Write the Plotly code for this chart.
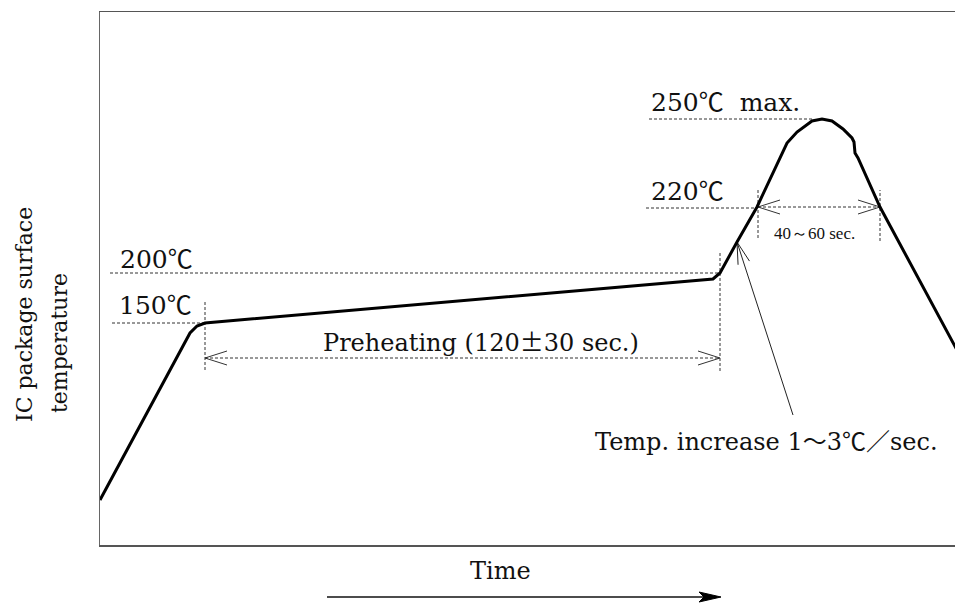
import math
import plotly.graph_objects as go

# ---- profile curve (time units, schematic temperature units) ----
time = [0, 60, 90, 97, 105, 613, 620, 637, 657, 687, 697, 712, 722, 732, 743, 752, 754, 755, 758, 780, 865]
temp = [45, 156, 212, 219, 222, 266, 272, 303, 338, 402, 413, 424, 426, 424, 416, 407, 403, 392, 387, 338, 180]

# ---- temperature level guides ----
level_names = ["150℃", "200℃", "220℃", "250℃\u00a0\u00a0max."]
level_temp = [222, 272, 337, 426]
level_from = [12, 10, 546, 549]
level_to = [105, 618, 657, 712]
level_label_x = [17, 18, 549, 549]
level_label_y = [242, 288, 356, 445]

# ---- vertical time markers ----
mark_time = [105, 620, 658, 780]
mark_low = [175, 174, 307, 304]
mark_high = [244, 293, 355, 355]

# ---- duration spans ----
span_names = ["Preheating (120±30 sec.)", "40～60 sec."]
span_start = [105, 658]
span_end = [620, 780]
span_level = [187, 338]
span_label_x = [381, 714]
span_label_y = [205, 312]

# ---- ramp-rate callout ----
rate_text = "Temp. increase 1～3℃／sec."
rate_tip = (637, 303)
rate_tail = (693, 130)
rate_label = (666, 106)

# ---- axis captions ----
y_caption = ["IC package surface", "temperature"]
y_caption_x = [-76, -41]
y_caption_y = [230, 202]
x_caption = "Time"
x_caption_pos = (400, -26)
time_arrow = (227, 621, -52)   # start, end, level (below axis)

X_RANGE = [0, 855]
Y_RANGE = [0, 533]

SERIF = "'DejaVu Serif', 'Liberation Serif', serif"
NARROW = "'Liberation Serif', serif"
CJK = "Noto Sans CJK JP"
INK = "#111111"
DASH = dict(color="#333333", width=1, dash="3px,2px")


def wide(s):
    out = []
    for ch in s:
        if ch in "℃～／±":
            out.append(f'<span style="font-family:{CJK}">{ch}</span>')
        else:
            out.append(ch)
    return "".join(out)


def px(x):
    return (x - X_RANGE[0]) / (X_RANGE[1] - X_RANGE[0])


def py(y):
    return (y - Y_RANGE[0]) / (Y_RANGE[1] - Y_RANGE[0])


fig = go.Figure()


def add_line(xs, ys, line):
    fig.add_trace(go.Scatter(x=xs, y=ys, mode="lines", line=line,
                             hoverinfo="skip", showlegend=False))


def v_head(tip, back, length, half):
    dx, dy = back
    n = math.hypot(dx, dy)
    ux, uy = dx / n, dy / n
    qx, qy = -uy, ux
    bx, by = tip[0] + ux * length, tip[1] + uy * length
    return ([bx + qx * half, tip[0], bx - qx * half],
            [by + qy * half, tip[1], by - qy * half])


# guides
for t, a, b in zip(level_temp, level_from, level_to):
    add_line([a, b], [t, t], DASH)
for x, lo, hi in zip(mark_time, mark_low, mark_high):
    add_line([x, x], [lo, hi], DASH)
for a, b, lev in zip(span_start, span_end, span_level):
    add_line([a, b], [lev, lev], DASH)
    for tip, back in (((a, lev), (1, 0)), ((b, lev), (-1, 0))):
        hx, hy = v_head(tip, back, 22, 7)
        add_line(hx, hy, dict(color="#333333", width=1))

# rate callout arrow
add_line([rate_tail[0], rate_tip[0]], [rate_tail[1], rate_tip[1]], dict(color="#222222", width=1))
hx, hy = v_head(rate_tip, (rate_tail[0] - rate_tip[0], rate_tail[1] - rate_tip[1]), 22, 6)
add_line(hx, hy, dict(color="#222222", width=1))

# profile
fig.add_trace(go.Scatter(x=time, y=temp, mode="lines",
                         line=dict(color="#000000", width=3),
                         hoverinfo="skip", showlegend=False))

ann = []
for name, x, y in zip(level_names, level_label_x, level_label_y):
    ann.append(dict(x=x, y=y, text=wide(name), xanchor="left", yanchor="middle",
                    showarrow=False, font=dict(size=25, family=SERIF, color=INK)))
ann.append(dict(x=span_label_x[0], y=span_label_y[0], text=wide(span_names[0]),
                xanchor="center", yanchor="middle", showarrow=False,
                font=dict(size=24, family=SERIF, color=INK)))
ann.append(dict(x=span_label_x[1], y=span_label_y[1], text=span_names[1],
                xanchor="center", yanchor="middle", showarrow=False,
                font=dict(size=17, family=NARROW, color=INK)))
ann.append(dict(x=rate_label[0], y=rate_label[1], text=wide(rate_text),
                xanchor="center", yanchor="middle", showarrow=False,
                font=dict(size=24, family=SERIF, color=INK)))
ann.append(dict(x=px(x_caption_pos[0]), y=py(x_caption_pos[1]), xref="paper", yref="paper",
                text=x_caption, xanchor="center", yanchor="middle",
                showarrow=False, font=dict(size=24, family=SERIF, color=INK)))
for txt, cx, cy in zip(y_caption, y_caption_x, y_caption_y):
    ann.append(dict(x=px(cx), y=py(cy), xref="paper", yref="paper", text=txt, textangle=-90,
                    xanchor="center", yanchor="middle", showarrow=False,
                    font=dict(size=22, family=SERIF, color=INK)))

# Time arrow (outside the plotting area -> paper coordinates)
a0, a1, lev = time_arrow
head_len, head_half = 22, 5
shapes = [
    dict(type="line", xref="paper", yref="paper", x0=px(a0), x1=px(a1 - head_len + 4),
         y0=py(lev), y1=py(lev), line=dict(color="#111111", width=1.5)),
    dict(type="path", xref="paper", yref="paper",
         path=(f"M {px(a1)},{py(lev)} L {px(a1 - head_len)},{py(lev + head_half)} "
               f"L {px(a1 - head_len + 5)},{py(lev)} L {px(a1 - head_len)},{py(lev - head_half)} Z"),
         fillcolor="#000000", line=dict(color="#000000", width=1)),
]

fig.update_layout(
    width=955, height=603,
    margin=dict(l=100, r=0, t=12, b=58),
    paper_bgcolor="white", plot_bgcolor="white",
    hovermode=False,
    xaxis=dict(range=X_RANGE, showgrid=False, zeroline=False, showticklabels=False,
               ticks="", showline=True, linecolor="#555555", linewidth=1.5, mirror=True),
    yaxis=dict(range=Y_RANGE, showgrid=False, zeroline=False, showticklabels=False,
               ticks="", showline=True, linecolor="#666666", linewidth=1.5),
    annotations=ann,
    shapes=shapes,
    font=dict(family=SERIF, color=INK),
)

fig.write_html(
    "out.html",
    config={"displayModeBar": False, "staticPlot": True},
    post_script="document.body.style.margin='0';document.body.style.overflow='hidden';",
)
